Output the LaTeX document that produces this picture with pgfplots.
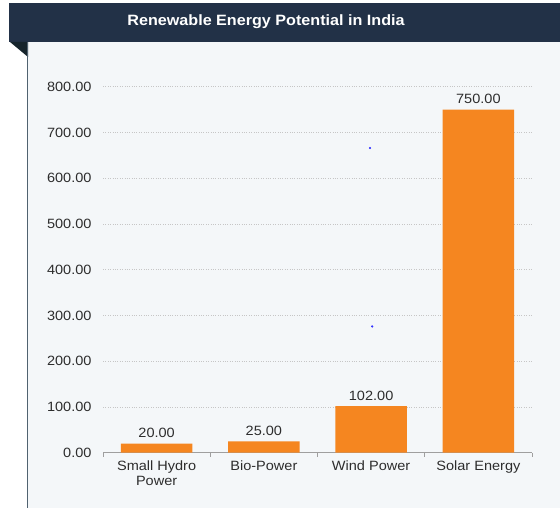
\documentclass[border=0pt]{standalone}
\usepackage{fontspec}
\setmainfont{Liberation Sans}[FakeStretch=1.08]
\usepackage{pgfplots}
\pgfplotsset{compat=1.18}

\definecolor{headbg}{RGB}{34,49,71}
\definecolor{panelbg}{RGB}{244,247,249}
\definecolor{foldc}{RGB}{22,36,44}
\definecolor{edgec}{RGB}{80,98,112}
\definecolor{barc}{RGB}{245,134,32}
\definecolor{txt}{RGB}{45,45,45}

\begin{document}
\begin{tikzpicture}[x=1bp,y=1bp]
  % page and frame
  \fill[white] (0,0) rectangle (560,508);
  \fill[panelbg] (28,0) rectangle (560,466);
  \fill[headbg] (9,466) rectangle (560,505);
  \fill[foldc] (10,466) -- (28,466) -- (28,451) -- cycle;
  \draw[edgec, line width=1.2bp] (27.6,0) -- (27.6,466);
  \node[white, font=\fontsize{15}{17}\selectfont\bfseries] at (266,486) {Renewable Energy Potential in India};

  \begin{axis}[
      at={(103bp,55.3bp)}, anchor=south west,
      scale only axis,
      width=429bp, height=366bp,
      xmin=-0.5, xmax=3.5,
      ymin=0, ymax=800,
      ytick={0,100,...,800},
      xtick={0,1,2,3},
      xticklabels={{Small Hydro\\Power},{Bio-Power},{Wind Power},{Solar Energy}},
      x tick label style={align=center, text=txt, font=\fontsize{13.5}{14.5}\selectfont, yshift=-5bp},
      y tick label style={text=txt, font=\fontsize{13.5}{15}\selectfont, xshift=-8bp},
      /pgf/number format/.cd, fixed, fixed zerofill, precision=2, 1000 sep={}, assume math mode=true,
      /pgfplots/.cd,
      axis x line*=bottom,
      axis y line*=left,
      y axis line style={draw=none},
      x axis line style={draw=gray!75, line width=1.2bp, -},
      major tick length=0pt,
      extra x ticks={-0.5,0.5,1.5,2.5,3.5},
      extra x tick labels={},
      extra x tick style={major tick length=4bp, tick align=outside, grid=none,
        tick style={draw=gray!75, line width=1bp}},
      ymajorgrids,
      grid style={draw=gray!45, dotted, line width=0.6bp},
      ybar, bar width=0.665,
      nodes near coords={\pgfmathprintnumber[fixed,fixed zerofill,precision=2]{\pgfplotspointmeta}},
      nodes near coords style={text=txt, font=\fontsize{13.5}{15}\selectfont, yshift=2bp},
      clip=false,
    ]
    \addplot[fill=barc, draw=none] coordinates {(0,20) (1,25) (2,102) (3,750)};
    % stray blue dots in the source image
    \addplot[only marks, mark=*, mark size=0.9bp, blue!80, nodes near coords={}, forget plot]
      coordinates {(1.99,666) (2.01,276)};
  \end{axis}
\end{tikzpicture}
\end{document}
